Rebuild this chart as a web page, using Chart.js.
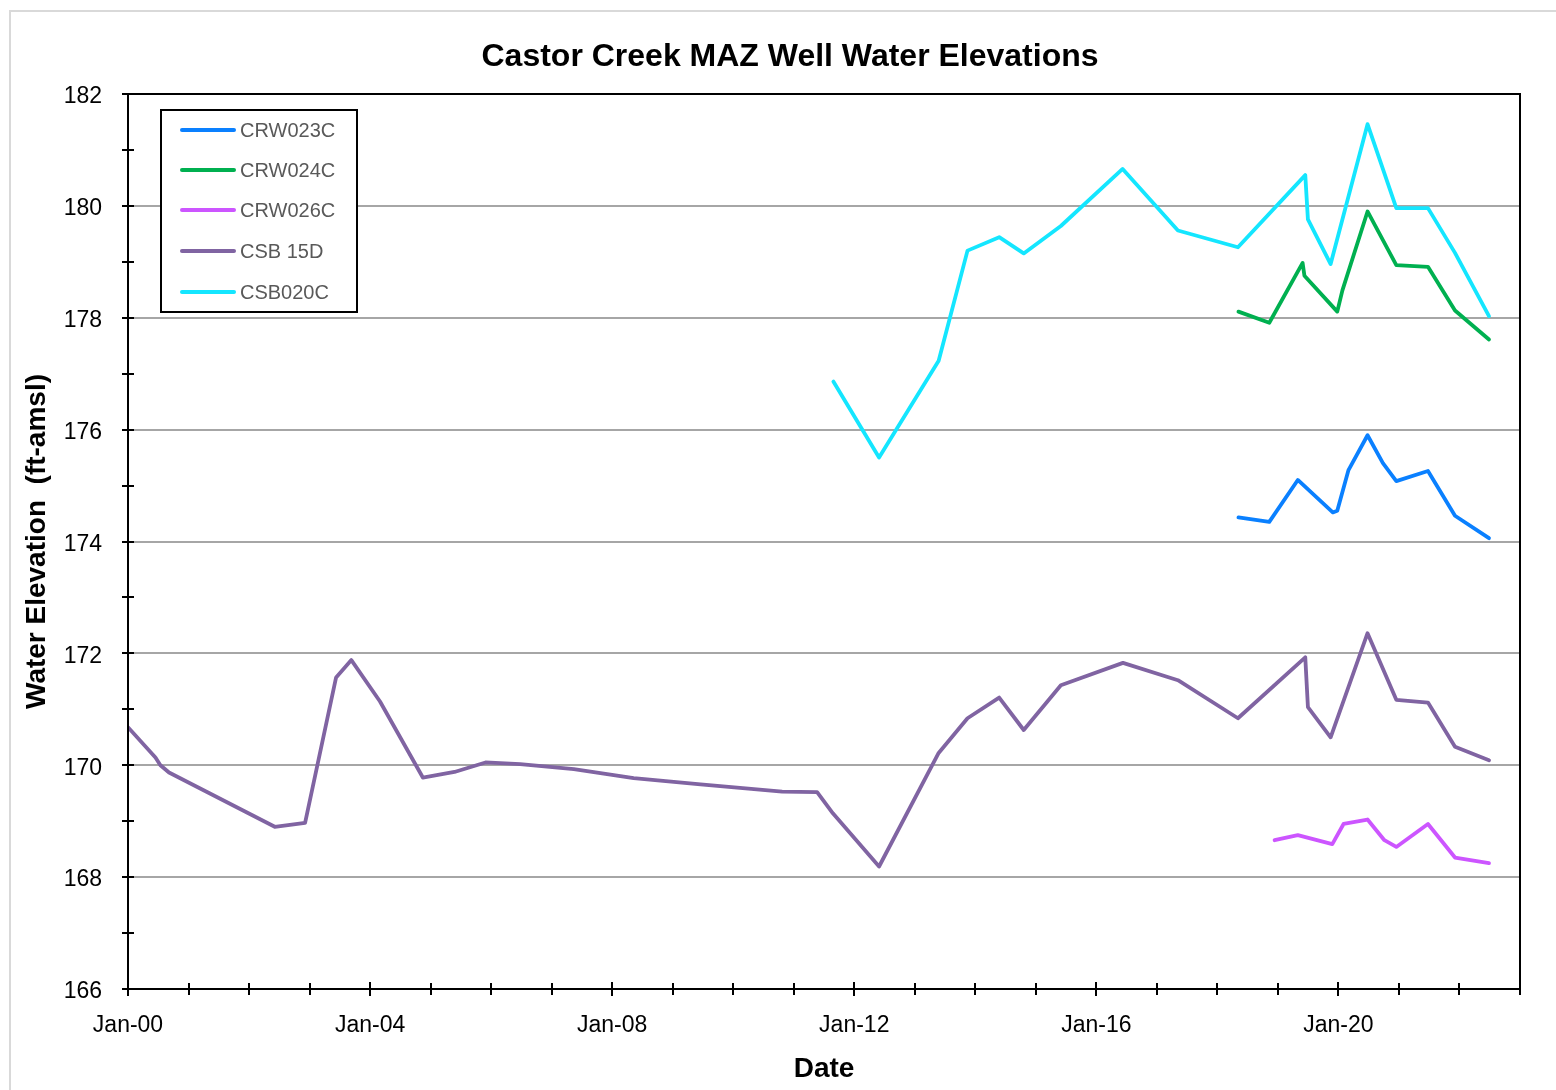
<!DOCTYPE html>
<html>
<head>
<meta charset="utf-8">
<script src="https://cdn.jsdelivr.net/npm/chart.js@4/dist/chart.umd.min.js"></script>
<style>
html,body{margin:0;padding:0;background:#fff;}
#wrap{position:relative;width:1556px;height:1090px;overflow:hidden;}
canvas{display:block;}
</style>
</head>
<body>
<div id="wrap"><canvas id="c" width="1556" height="1090"></canvas></div>
<script>
// ---- Data ----
const seriesNames = ["CRW023C", "CRW024C", "CRW026C", "CSB 15D", "CSB020C"];
const seriesColors = ["#0A80FF", "#00B050", "#CC55FF", "#8064A2", "#14E6FF"];

const crw023cDates = ["2018-05-08","2018-11-10","2019-05-01","2019-11-28","2019-12-25","2020-03-01","2020-06-25","2020-09-26","2020-12-16","2021-06-25","2021-12-05","2022-06-28"];
const crw023cValues = [174.43,174.35,175.10,174.52,174.55,175.27,175.90,175.40,175.08,175.26,174.46,174.06];

const crw024cDates = ["2018-05-08","2018-11-10","2019-05-30","2019-06-10","2019-12-25","2020-01-25","2020-06-25","2020-12-16","2021-06-25","2021-12-05","2022-06-28"];
const crw024cValues = [178.11,177.91,178.98,178.75,178.11,178.49,179.90,178.94,178.91,178.13,177.61];

const crw026cDates = ["2018-12-12","2019-05-01","2019-11-25","2020-02-01","2020-06-25","2020-10-05","2020-12-16","2021-06-25","2021-12-05","2022-06-28"];
const crw026cValues = [168.66,168.75,168.59,168.95,169.03,168.66,168.54,168.95,168.35,168.25];

const csb15dDates = ["2000-01-01","2000-06-15","2000-07-15","2000-09-05","2002-06-05","2002-12-05","2003-06-10","2003-09-10","2004-03-01","2004-11-15","2005-05-25","2005-11-28","2006-06-25","2007-05-15","2008-05-10","2009-06-18","2010-10-23","2011-05-22","2011-08-25","2012-05-30","2013-05-25","2013-11-15","2014-05-25","2014-10-20","2015-06-01","2016-06-10","2017-05-08","2018-05-05","2019-06-15","2019-07-01","2019-11-15","2020-06-25","2020-12-16","2021-06-25","2021-12-05","2022-06-28"];
const csb15dValues = [170.68,170.14,170.00,169.87,168.90,168.97,171.57,171.88,171.14,169.78,169.88,170.05,170.02,169.93,169.77,169.66,169.53,169.52,169.14,168.19,170.22,170.84,171.21,170.63,171.43,171.83,171.52,170.84,171.93,171.04,170.50,172.36,171.17,171.12,170.33,170.09];

const csb020cDates = ["2011-08-28","2012-05-30","2013-05-25","2013-11-15","2014-05-25","2014-10-20","2015-06-01","2016-06-08","2017-05-08","2018-05-05","2019-06-15","2019-07-01","2019-11-15","2020-06-25","2020-12-16","2021-06-25","2021-12-05","2022-06-28"];
const csb020cValues = [176.86,175.50,177.23,179.20,179.44,179.15,179.64,180.66,179.56,179.26,180.55,179.76,178.96,181.46,179.96,179.96,179.16,178.03];

const xTickYears = [2000, 2004, 2008, 2012, 2016, 2020];
const yTickLabels = [166, 168, 170, 172, 174, 176, 178, 180, 182];

const chartTitle = "Castor Creek MAZ Well Water Elevations";
const xTitle = "Date";
const yTitle = "Water Elevation  (ft-amsl)";

// ---- helpers ----
function toYear(s) {
  const p = s.split("-").map(Number);
  const y = p[0];
  const t = Date.UTC(y, p[1] - 1, p[2]);
  const a = Date.UTC(y, 0, 1), b = Date.UTC(y + 1, 0, 1);
  return y + (t - a) / (b - a);
}
function pts(dates, vals) { return dates.map((d, i) => ({ x: toYear(d), y: vals[i] })); }

const allDates = [crw023cDates, crw024cDates, crw026cDates, csb15dDates, csb020cDates];
const allValues = [crw023cValues, crw024cValues, crw026cValues, csb15dValues, csb020cValues];

const datasets = seriesNames.map((n, i) => ({
  label: n,
  data: pts(allDates[i], allValues[i]),
  borderColor: seriesColors[i],
  backgroundColor: seriesColors[i],
  borderWidth: 3.8,
  pointRadius: 0,
  tension: 0,
  fill: false,
  borderJoinStyle: "round",
  borderCapStyle: "round"
}));

const FONT = "'Liberation Sans', Arial, sans-serif";

const decorPlugin = {
  id: "decor",
  beforeDraw(chart) {
    const ctx = chart.ctx;
    ctx.save();
    ctx.fillStyle = "#fff";
    ctx.fillRect(0, 0, chart.width, chart.height);
    ctx.strokeStyle = "#D9D9D9";
    ctx.lineWidth = 2;
    ctx.strokeRect(10, 11, 1600, 1200);
    ctx.restore();
  },
  afterDatasetsDraw(chart) {
    const ctx = chart.ctx;
    const a = chart.chartArea;
    const xs = chart.scales.x, ys = chart.scales.y;
    ctx.save();
    // plot frame
    ctx.strokeStyle = "#000";
    ctx.lineWidth = 2;
    ctx.strokeRect(a.left, a.top, a.right - a.left, a.bottom - a.top);
    // y ticks crossing axis
    ctx.beginPath();
    for (let v = ys.min; v <= ys.max; v++) {
      const py = Math.round(ys.getPixelForValue(v));
      ctx.moveTo(a.left - 6, py);
      ctx.lineTo(a.left + 6, py);
    }
    // x ticks crossing axis
    for (let v = xs.min; v <= xs.max; v++) {
      const px = Math.round(xs.getPixelForValue(v));
      const h = xTickYears.includes(v) ? 7 : 6;
      ctx.moveTo(px, a.bottom - h);
      ctx.lineTo(px, a.bottom + h);
    }
    ctx.stroke();

    // title
    ctx.fillStyle = "#000";
    ctx.font = "bold 32px " + FONT;
    ctx.textAlign = "center";
    ctx.textBaseline = "middle";
    ctx.fillText(chartTitle, 790, 57);

    // legend box
    const lx = 161, ly = 110, lw = 196, lh = 202;
    ctx.fillStyle = "#fff";
    ctx.fillRect(lx, ly, lw, lh);
    ctx.strokeStyle = "#000";
    ctx.lineWidth = 2;
    ctx.strokeRect(lx, ly, lw, lh);
    const rowY = [20, 60, 100, 141, 182];
    ctx.font = "20px " + FONT;
    ctx.textAlign = "left";
    ctx.textBaseline = "middle";
    chart.data.datasets.forEach((ds, i) => {
      const y = ly + rowY[i];
      ctx.strokeStyle = ds.borderColor;
      ctx.lineWidth = 4;
      ctx.lineCap = "round";
      ctx.beginPath();
      ctx.moveTo(lx + 21, y);
      ctx.lineTo(lx + 73, y);
      ctx.stroke();
      ctx.fillStyle = "#595959";
      ctx.fillText(ds.label, lx + 79, y + 1);
    });
    ctx.restore();
  }
};

new Chart(document.getElementById("c"), {
  type: "line",
  data: { datasets },
  plugins: [decorPlugin],
  options: {
    responsive: false,
    animation: false,
    events: [],
    layout: { padding: { left: 0, right: 36, top: 94, bottom: 0 } },
    plugins: { legend: { display: false }, title: { display: false }, tooltip: { enabled: false } },
    scales: {
      x: {
        type: "linear",
        min: 2000,
        max: 2023,
        afterFit(s) { s.height = 101; },
        grid: { display: false, drawTicks: false },
        border: { display: true, color: "#000", width: 2 },
        ticks: {
          stepSize: 1,
          autoSkip: false,
          maxRotation: 0,
          padding: 23,
          color: "#000",
          font: { family: FONT, size: 23 },
          callback(v) {
            return xTickYears.includes(v) ? "Jan-" + String(v % 100).padStart(2, "0") : "";
          }
        },
        title: {
          display: true,
          text: xTitle,
          color: "#000",
          font: { family: FONT, size: 28, weight: "bold" },
          padding: { top: 0, bottom: 4 }
        }
      },
      y: {
        min: 166,
        max: 182,
        afterFit(s) { s.width = 128; },
        grid: {
          drawTicks: false,
          lineWidth: 2,
          color(c) { return yTickLabels.includes(c.tick.value) ? "#A6A6A6" : "rgba(0,0,0,0)"; }
        },
        border: { display: true, color: "#000", width: 2 },
        ticks: {
          stepSize: 1,
          autoSkip: false,
          padding: 26,
          labelOffset: 3,
          color: "#000",
          font: { family: FONT, size: 23 },
          callback(v) { return yTickLabels.includes(v) ? String(v) : ""; }
        },
        title: {
          display: true,
          text: yTitle,
          color: "#000",
          font: { family: FONT, size: 28, weight: "bold" },
          padding: { top: 20, bottom: 0 }
        }
      }
    }
  }
});
</script>
</body>
</html>
